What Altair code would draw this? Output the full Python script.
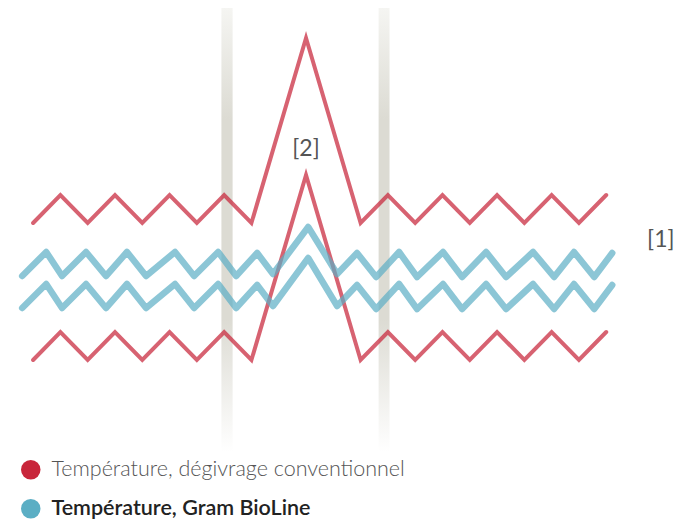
import altair as alt
import pandas as pd

# ---- data (time index, temperature in arbitrary units) ----
red_name = "Température, dégivrage conventionnel"
blue_name = "Température, Gram BioLine"

red_x = [0, 1, 2, 3, 4, 5, 6, 7, 8, 10, 12, 13, 14, 15, 16, 17, 18, 19, 20, 21]
red_upper = [72.25, 79.25, 72.25, 79.25, 72.25, 79.25, 72.25, 79.25, 72.25, 118.5,
             72.25, 79.25, 72.25, 79.25, 72.25, 79.25, 72.25, 79.25, 72.25, 79.25]
red_lower = [38, 45, 38, 45, 38, 45, 38, 45, 38, 84.25,
             38, 45, 38, 45, 38, 45, 38, 45, 38, 45]

blue_x = [-0.40, 0.48, 1.06, 1.94, 2.67, 3.44, 4.14, 5.20, 5.90, 6.78, 7.44, 8.21, 8.79, 10.08,
          11.14, 11.87, 12.57, 13.41, 14.07, 15.02, 15.72, 16.60, 17.33, 18.32, 19.09, 19.82, 20.56, 21.22]
blue_upper = [59, 65, 59, 65, 59, 65, 59, 65, 59, 65, 59, 64.75, 59.5, 71.25,
              59.5, 64.75, 58.75, 65, 58.75, 65, 58.75, 65, 58.75, 65, 58.75, 65, 58.75, 64.75]
blue_lower = [51, 57, 51, 57, 51, 57, 51, 57, 51, 57, 51, 56.75, 51.5, 63.5,
              51.5, 56.75, 50.75, 57, 50.75, 57, 50.75, 57, 50.75, 57, 50.75, 57, 50.75, 56.75]

bar_x_start = [6.90, 12.66]
bar_x_end = [7.31, 13.06]
bar_top = [126, 126]
bar_bottom = [15, 15]

note_text = ["[2]", "[1]"]
note_x = [10.0, 23.0]
note_y = [90.75, 68.0]

RED = "#c8253a"
BLUE = "#5baec4"

red_df = pd.DataFrame({
    "t": red_x + red_x,
    "temp": red_upper + red_lower,
    "band": ["upper"] * len(red_x) + ["lower"] * len(red_x),
    "serie": [red_name] * (2 * len(red_x)),
})
blue_df = pd.DataFrame({
    "t": blue_x + blue_x,
    "temp": blue_upper + blue_lower,
    "band": ["upper"] * len(blue_x) + ["lower"] * len(blue_x),
    "serie": [blue_name] * (2 * len(blue_x)),
})
bars_df = pd.DataFrame({"x0": bar_x_start, "x1": bar_x_end, "y0": bar_bottom, "y1": bar_top})
notes_df = pd.DataFrame({"label": note_text, "t": note_x, "temp": note_y})

xs = alt.Scale(domain=[-0.92, 23.63], nice=False, zero=False)
ys = alt.Scale(domain=[0, 126], nice=False, zero=False)
X = alt.X("t:Q", scale=xs, axis=None)
Y = alt.Y("temp:Q", scale=ys, axis=None)

grad = alt.Gradient(
    gradient="linear",
    stops=[
        alt.GradientStop(color="#f5f5f2", offset=0),
        alt.GradientStop(color="#dcdbd3", offset=0.25),
        alt.GradientStop(color="#dcdbd3", offset=0.7),
        alt.GradientStop(color="#ffffff", offset=1),
    ],
    x1=0, x2=0, y1=0, y2=1,
)

bars = alt.Chart(bars_df).mark_rect(color=grad).encode(
    x=alt.X("x0:Q", scale=xs, axis=None),
    x2="x1:Q",
    y=alt.Y("y0:Q", scale=ys, axis=None),
    y2="y1:Q",
)

def legend(color, y, weight, label_color):
    return alt.Legend(
        orient="none", legendX=12, legendY=y, title=None, padding=0,
        symbolType="circle", symbolSize=380, symbolFillColor=color,
        symbolStrokeColor=color, symbolStrokeWidth=0, symbolOpacity=1,
        labelFont="Lato", labelFontSize=21.5, labelFontWeight=weight,
        labelColor=label_color, labelOffset=10, labelLimit=600,
    )

red = alt.Chart(red_df).mark_line(strokeWidth=4, opacity=0.72, strokeCap="round", strokeJoin="miter").encode(
    x=X, y=Y, detail="band:N",
    color=alt.Color("serie:N", scale=alt.Scale(domain=[red_name], range=[RED]),
                    legend=legend(RED, 451, 300, "#555555")),
)
blue = alt.Chart(blue_df).mark_line(strokeWidth=6.5, opacity=0.7, strokeCap="round", strokeJoin="round").encode(
    x=X, y=Y, detail="band:N",
    color=alt.Color("serie:N", scale=alt.Scale(domain=[blue_name], range=[BLUE]),
                    legend=legend(BLUE, 490, 600, "#222222")),
)

notes = alt.Chart(notes_df).mark_text(font="Lato", fontSize=23, fontWeight=400, color="#555555").encode(
    x=X, y=Y, text="label:N"
)

chart = alt.layer(bars, red, blue, notes).resolve_scale(color="independent").properties(
    width=670, height=504,
    padding={"left": 0, "top": 0, "right": 0, "bottom": 8},
    autosize=alt.AutoSizeParams(type="none"),
).configure_view(stroke=None)

chart.save("out.html", embed_options={"renderer": "svg", "actions": False})
